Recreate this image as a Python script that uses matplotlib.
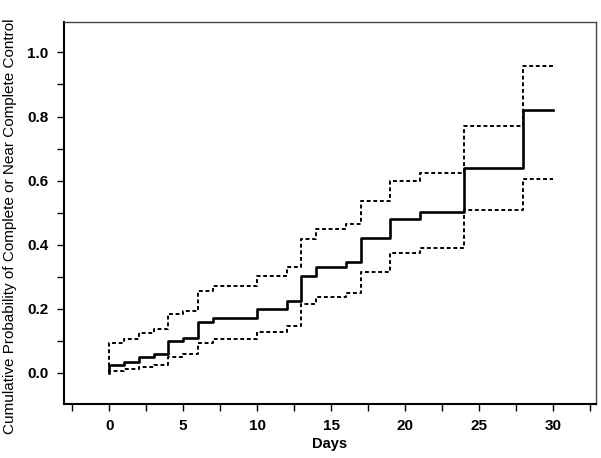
import matplotlib
matplotlib.use("Agg")
import matplotlib.pyplot as plt
from matplotlib.ticker import MultipleLocator

plt.rcParams['font.family'] = ['Liberation Sans', 'DejaVu Sans']

days = [0, 0, 1, 2, 3, 4, 5, 6, 7, 10, 12, 13, 14, 16, 17, 19, 21, 24, 28, 30]
estimate = [0.0, 0.025, 0.033, 0.048, 0.060, 0.100, 0.108, 0.160, 0.171, 0.199, 0.225,
            0.302, 0.330, 0.346, 0.420, 0.479, 0.503, 0.639, 0.821, 0.821]
upper = [0.0, 0.092, 0.106, 0.124, 0.137, 0.183, 0.194, 0.256, 0.270, 0.302, 0.331,
         0.417, 0.449, 0.464, 0.537, 0.599, 0.625, 0.770, 0.957, 0.957]
lower = [0.0, 0.006, 0.012, 0.018, 0.025, 0.048, 0.058, 0.092, 0.105, 0.126, 0.146,
         0.214, 0.238, 0.250, 0.316, 0.373, 0.390, 0.508, 0.606, 0.606]

xticks = [0, 5, 10, 15, 20, 25, 30]
yticks = [0.0, 0.2, 0.4, 0.6, 0.8, 1.0]

fig = plt.figure(figsize=(6.01, 4.58), dpi=100)
ax = fig.add_axes([0.1065, 0.118, 0.885, 0.834])

ax.step(days, estimate, where='post', color='black', lw=1.9)
ax.step(days, upper, where='post', color='black', lw=1.4, linestyle=(0, (2, 1.4)))
ax.step(days, lower, where='post', color='black', lw=1.4, linestyle=(0, (2, 1.4)))

ax.set_xlim(-3.05, 32.9)
ax.set_ylim(-0.097, 1.095)
ax.set_xticks(xticks)
ax.set_xticklabels([str(t) for t in xticks])
ax.set_yticks(yticks)
ax.set_yticklabels([f"{t:.1f}" for t in yticks])
ax.xaxis.set_minor_locator(MultipleLocator(2.5))
ax.yaxis.set_minor_locator(MultipleLocator(0.1))
ax.tick_params(which='both', direction='out', width=1, color='black', length=5)
ax.tick_params(which='major', labelsize=11, pad=6)
for lab in ax.get_xticklabels() + ax.get_yticklabels():
    lab.set_fontweight('bold')

for s in ['left', 'bottom']:
    ax.spines[s].set_linewidth(1.5)
for s in ['top', 'right']:
    ax.spines[s].set_linewidth(1.0)
    ax.spines[s].set_color('#444444')

ax.set_xlabel('Days', fontsize=10.5, fontweight='bold', labelpad=3)
ax.set_ylabel('Cumulative Probability of Complete or Near Complete Control', fontsize=11)
ax.yaxis.set_label_coords(-0.088, 0.466)

fig.savefig('out.png', dpi=100)
